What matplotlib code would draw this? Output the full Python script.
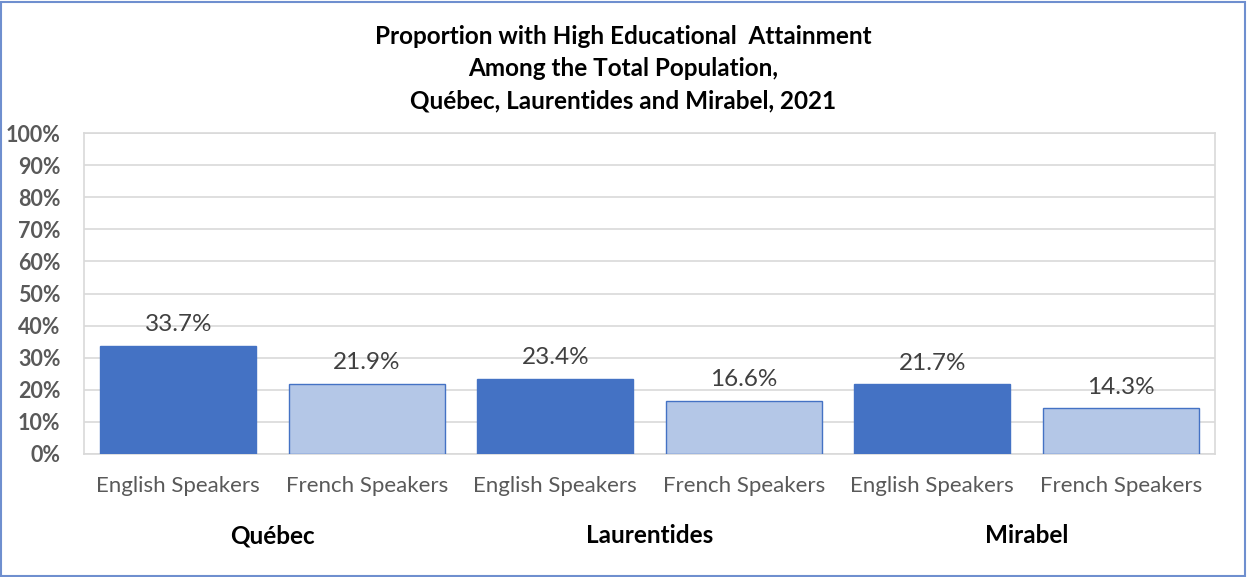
import matplotlib
matplotlib.use("Agg")
import matplotlib.pyplot as plt
from matplotlib.patches import Rectangle
import numpy as np

regions = ["Québec", "Laurentides", "Mirabel"]
groups = ["English Speakers", "French Speakers"]
english = [33.7, 23.4, 21.7]
french = [21.9, 16.6, 14.3]
yticks = [0, 10, 20, 30, 40, 50, 60, 70, 80, 90, 100]

plt.rcParams['font.family'] = ['Lato', 'DejaVu Sans']

fig = plt.figure(figsize=(12.47, 5.77), dpi=100)
ax = fig.add_axes([84/1247, 1-454/577, (1215-84)/1247, (454-133)/577])

labels = []
values = []
colors = []
for i, r in enumerate(regions):
    labels += groups
    values += [english[i], french[i]]
    colors += ["#4472C4", "#B4C7E7"]

x = np.arange(len(values))
bars = ax.bar(x, values, width=0.83, color=colors, edgecolor="#4472C4", linewidth=1.0, zorder=3)
for xi, v in zip(x, values):
    ax.text(xi, v + 3.3, f"{v:.1f}%", ha="center", va="bottom", fontsize=17.5, color="#404040")

ax.set_xlim(-0.5, len(values) - 0.5)
ax.set_ylim(0, 100)
ax.set_yticks(yticks)
ax.set_yticklabels([f"{t}%" for t in yticks], fontsize=15.5, fontweight="bold", color="#595959")
ax.set_xticks(x)
ax.set_xticklabels(labels, fontsize=16, color="#595959")
ax.tick_params(axis="both", length=0)
ax.tick_params(axis="x", pad=16)
ax.tick_params(axis="y", pad=17)
ax.grid(axis="y", color="#D9D9D9", linewidth=1.2, zorder=0)
for s in ax.spines.values():
    s.set_color("#D9D9D9")
    s.set_linewidth(1.2)

for i, r in enumerate(regions):
    xc = 2 * i + 0.5
    ax.text(xc, -25.5, r, ha="center", va="center", fontsize=17.5, fontweight="bold",
            color="black", transform=ax.transData)

title_lines = ["Proportion with High Educational  Attainment",
               "Among the Total Population,",
               "Québec, Laurentides and Mirabel, 2021"]
for y, t in zip([36, 69, 101], title_lines):
    fig.text(0.5, 1-y/577, t, ha="center", va="center",
             fontsize=17.5, fontweight="bold", color="black")

fig.patches.append(Rectangle((0.001, 0.002), 0.997, 0.995, transform=fig.transFigure,
                             fill=False, edgecolor="#6F8FCF", linewidth=1.5))

fig.savefig("out.png", dpi=100)
